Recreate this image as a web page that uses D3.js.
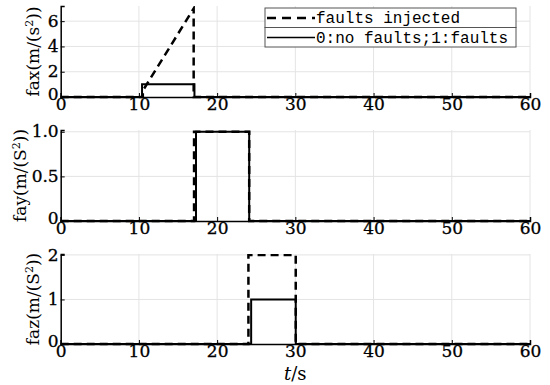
<!DOCTYPE html>
<html>
<head>
<meta charset="utf-8">
<script src="https://cdn.jsdelivr.net/npm/d3@7"></script>
<style>
  body { margin: 0; background: #fff; }
  svg { display: block; }
  .tick text { font-family: 'DejaVu Serif', serif; }
</style>
</head>
<body>
<div id="chart"></div>
<script>
// step signals, [t, value]
var faxInjected = [[0, 0], [10.5, 0], [10.5, 0.5], [17, 7], [17, 0], [60, 0]];
var faxFlag = [[0, 0], [10.4, 0], [10.4, 1], [17.1, 1], [17.1, 0], [60, 0]];
var fayInjected = [[0, 0], [17.05, 0], [17.05, 1], [24.1, 1], [24.1, 0], [60, 0]];
var fayFlag = [[0, 0], [17.3, 0], [17.3, 1], [24.1, 1], [24.1, 0], [60, 0]];
var fazInjected = [[0, 0], [24.0, 0], [24.0, 2], [30.05, 2], [30.05, 0], [60, 0]];
var fazFlag = [[0, 0], [24.35, 0], [24.35, 1], [30.05, 1], [30.05, 0], [60, 0]];

var xTicks = [0, 10, 20, 30, 40, 50, 60];
var legendLabels = ["faults injected", "0:no faults;1:faults"];

var panels = [
    { label: "fax", unit: "s", injected: faxInjected, flag: faxFlag, domain: [0, 7.2], top: 6, bottom: 97, ticks: [0, 2, 4, 6], fmt: d3.format("d"), labelX: 39 },
    { label: "fay", unit: "S", injected: fayInjected, flag: fayFlag, domain: [0, 1.02], top: 130, bottom: 221, ticks: [0, 0.5, 1], fmt: function (d) { return d === 0 ? "0" : d3.format(".1f")(d); }, labelX: 26 },
    { label: "faz", unit: "S", injected: fazInjected, flag: fazFlag, domain: [0, 2.02], top: 254, bottom: 344, ticks: [0, 1, 2], fmt: d3.format("d"), labelX: 39 }
];

var serif = "'DejaVu Serif', serif";

var W = 550, H = 385;
var svg = d3.select("#chart").append("svg")
    .attr("width", W)
    .attr("height", H);

var x = d3.scaleLinear().domain([0, 60]).range([60.7, 530]);

var line = d3.line()
    .x(function (d) { return x(d[0]); })
    .y(function (d) { return d[1]; });

panels.forEach(function (p, i) {
    var y = d3.scaleLinear().domain(p.domain).range([p.bottom, p.top]);
    var g = svg.append("g");

    // grid
    g.append("g").selectAll("line")
        .data(xTicks.slice(1))
        .enter().append("line")
        .attr("x1", function (d) { return x(d); })
        .attr("x2", function (d) { return x(d); })
        .attr("y1", p.top)
        .attr("y2", p.bottom)
        .attr("stroke", "#e4e4e4")
        .attr("stroke-width", 1);
    g.append("g").selectAll("line")
        .data(p.ticks.slice(1))
        .enter().append("line")
        .attr("x1", x(0))
        .attr("x2", x(60))
        .attr("y1", function (d) { return y(d); })
        .attr("y2", function (d) { return y(d); })
        .attr("stroke", "#e4e4e4")
        .attr("stroke-width", 1);

    var clipId = "clip" + i;
    svg.append("defs").append("clipPath")
        .attr("id", clipId)
        .append("rect")
        .attr("x", x(0) - 2)
        .attr("y", p.top)
        .attr("width", x(60) - x(0) + 4)
        .attr("height", p.bottom - p.top + 2);

    var plot = g.append("g").attr("clip-path", "url(#" + clipId + ")");

    // axes
    var xAxis = g.append("g")
        .attr("transform", "translate(0," + p.bottom + ")")
        .call(d3.axisBottom(x).tickValues(xTicks).tickSize(-4).tickPadding(3).tickFormat(d3.format("d")));
    var yAxis = g.append("g")
        .attr("transform", "translate(" + x(0) + ",0)")
        .call(d3.axisLeft(y).tickValues(p.ticks).tickSize(-4).tickPadding(2).tickFormat(p.fmt));
    [xAxis, yAxis].forEach(function (a) {
        a.attr("font-family", serif).attr("font-size", 17);
        a.select(".domain").attr("stroke", "#000").attr("stroke-width", 1.5);
        a.selectAll(".tick line").attr("stroke", "#000");
        a.selectAll("text")
            .attr("fill", "#000")
            .attr("stroke", "#000")
            .attr("stroke-width", 0.3)
            .style("font-family", serif)
            .style("font-size", "17px");
    });
    yAxis.selectAll("text").attr("dy", function (d) { return d === 0 ? "0.15em" : "0.3em"; });
    xAxis.selectAll("text").attr("dy", "0.6em");

    plot.append("path")
        .datum(p.flag.map(function (d) { return [d[0], y(d[1])]; }))
        .attr("fill", "none")
        .attr("stroke", "#000")
        .attr("stroke-width", 2)
        .attr("d", line);
    plot.append("path")
        .datum(p.injected.map(function (d) { return [d[0], y(d[1])]; }))
        .attr("fill", "none")
        .attr("stroke", "#000")
        .attr("stroke-width", 2.5)
        .attr("stroke-dasharray", "8,5")
        .attr("d", line);

    // y label
    var cy = (p.top + p.bottom) / 2;
    var lab = g.append("text")
        .attr("transform", "translate(" + p.labelX + "," + cy + ") rotate(-90)")
        .attr("text-anchor", "middle")
        .style("font-family", serif)
        .style("font-size", "17px")
        .attr("fill", "#000");
    lab.append("tspan").text(p.label + "(m/(" + p.unit);
    lab.append("tspan").attr("baseline-shift", "super").style("font-size", "11px").text("2");
    lab.append("tspan").text("))");
});

// legend
var lg = svg.append("g");
legendLabels.forEach(function (t, i) {
    var top = 8 + i * 19.5;
    lg.append("rect")
        .attr("x", 265)
        .attr("y", top)
        .attr("width", 251)
        .attr("height", 19.5)
        .attr("fill", "#fff")
        .attr("stroke", "#555")
        .attr("stroke-width", 1);
    lg.append("line")
        .attr("x1", 267)
        .attr("x2", 315)
        .attr("y1", top + 10)
        .attr("y2", top + 10)
        .attr("stroke", "#000")
        .attr("stroke-width", i === 0 ? 2.5 : 1.5)
        .attr("stroke-dasharray", i === 0 ? "9,6" : null);
    lg.append("text")
        .attr("x", 316)
        .attr("y", top + 15)
        .style("font-family", "'Liberation Mono', monospace")
        .style("font-size", "16px")
        .attr("fill", "#000")
        .text(t);
});

// x label
var xl = svg.append("text")
    .attr("x", x(30))
    .attr("y", 380)
    .attr("text-anchor", "middle")
    .style("font-family", serif)
    .style("font-size", "18px")
    .attr("fill", "#000");
xl.append("tspan").style("font-style", "italic").text("t");
xl.append("tspan").text("/s");
</script>
</body>
</html>
